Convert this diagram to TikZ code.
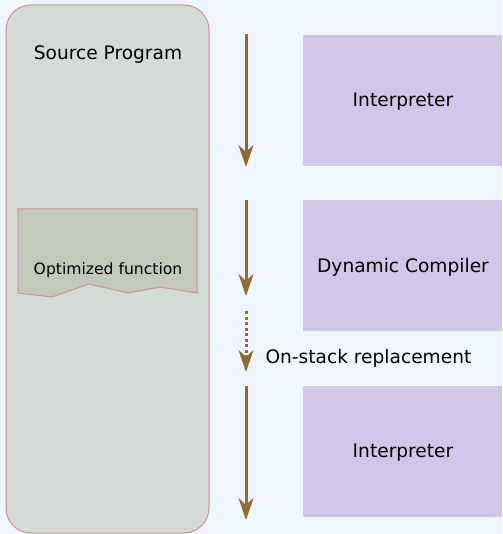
\documentclass[tikz,border=0pt]{standalone}
\usepackage{fontspec}
\setmainfont{DejaVu Sans}
\usepackage{xcolor}
\usepackage{tikz}
\usetikzlibrary{arrows.meta}

\definecolor{bgblue}{HTML}{F0F6FE}
\definecolor{srcfill}{HTML}{D4DBD6}
\definecolor{srcline}{HTML}{CC9494}
\definecolor{optfill}{HTML}{C2C8BA}
\definecolor{phasefill}{HTML}{D2C6E8}
\definecolor{flowbrown}{HTML}{92692E}

\tikzset{
  bigtext/.style={font=\fontsize{18.6}{22}\selectfont},
  phase/.style={fill=phasefill, bigtext, inner sep=0pt},
  flow/.style={draw=flowbrown, line width=3pt, -{Stealth[length=22pt, width=15pt, inset=7pt]}},
}

\begin{document}
\begin{tikzpicture}[x=1pt, y=-1pt]
    		\fill[bgblue] (0,0) rectangle (502,534);
    		\useasboundingbox (0,0) rectangle (502,534);
    		
    		% source program column
    		\draw[srcline, fill=srcfill, line width=1pt, rounded corners=25pt] (6,5) rectangle (209,533);
    		\node[bigtext] (src) at (108,55) {Source Program};
    		
    		\draw[srcline, fill=optfill, line width=1pt]
    			(18,209) -- (197,209) -- (197,293) -- (160,287) -- (128,293)
    			-- (89,284) -- (52,297) -- (18,293) -- cycle;
    		\node[font=\fontsize{15.6}{18}\selectfont] (opt) at (108,270) {Optimized function};
    		
    		% phases
    		\foreach \name/\y/\label in {
    			interp1/35/Interpreter,
    			dyncomp/200/Dynamic Compiler,
    			interp2/386/Interpreter
    		}{
    			\fill[phasefill] (303,\y) rectangle (502,\y+131);
    			\node[bigtext] (\name) at (403,\y+67) {\label};
    		}
    		
    		% arrows
    		\coordinate (a1) at (246,34);
    		\coordinate (b1) at (246,167);
    		\coordinate (a2) at (246,200);
    		\coordinate (b2) at (246,296);
    		\coordinate (a3) at (246,311);
    		\coordinate (b3) at (246,372);
    		\coordinate (a4) at (246,386);
    		\coordinate (b4) at (246,520);
    		
    		\draw[flow] (a1) -- (b1);
    		\draw[flow] (a2) -- (b2);
    		\draw[flow, dash pattern=on 3pt off 2.5pt] (a3) -- (b3);
    		\draw[flow] (a4) -- (b4);
    		
    		\node[bigtext, anchor=west] (osr) at (262,358) {On-stack replacement};
    	\end{tikzpicture}
\end{document}
